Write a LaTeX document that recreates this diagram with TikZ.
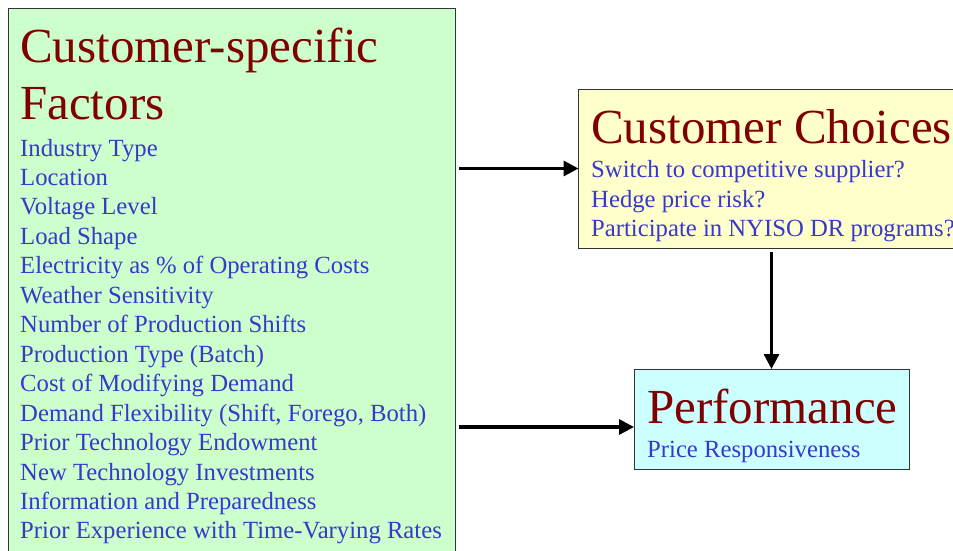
\documentclass[tikz,border=0pt]{standalone}
\usepackage{fontspec}
\setmainfont{Liberation Serif}
\usetikzlibrary{arrows.meta,calc}
\definecolor{titlered}{HTML}{800000}
\definecolor{itemblue}{HTML}{3838CC}
\definecolor{boxgreen}{HTML}{CCFFCC}
\definecolor{boxyellow}{HTML}{FFFFCC}
\definecolor{boxcyan}{HTML}{CCFFFF}
\definecolor{edge}{HTML}{333333}
\tikzset{
  panel/.style={draw=edge,line width=1pt,anchor=north west,inner sep=0pt,outer sep=0pt},
  title/.style={anchor=base west,inner sep=0pt,text=titlered,font=\fontsize{49}{58}\selectfont},
  item/.style={anchor=base west,inner sep=0pt,text=itemblue,font=\fontsize{24.7}{29}\selectfont},
  flow/.style={line width=3.2pt,-{Triangle[length=15pt,width=15pt]}}
}
\begin{document}
\begin{tikzpicture}[x=1pt,y=1pt]
\useasboundingbox (0,0) rectangle (953,-550);
% boxes
\node[panel,fill=boxgreen,minimum width=447pt,minimum height=560pt] (factors) at (8,-8) {};
\node[panel,fill=boxyellow,minimum width=400pt,minimum height=159pt] (cc) at (578.5,-89) {};
\node[panel,fill=boxcyan,minimum width=275pt,minimum height=100pt] (perf) at (634,-369) {};
% left box text
\node[title] (ft1) at (20,-62) {Customer-specific};
\node[title] (ft2) at (20,-119) {Factors};
\foreach \t [count=\i from 0] in {Industry Type,Location,Voltage Level,Load Shape,
  Electricity as \% of Operating Costs,Weather Sensitivity,Number of Production Shifts,
  Production Type (Batch),Cost of Modifying Demand,{Demand Flexibility (Shift, Forego, Both)},
  Prior Technology Endowment,New Technology Investments,Information and Preparedness,
  Prior Experience with Time-Varying Rates}
  \node[item] (f\i) at (20,{-156-29.46*\i}) {\t};
% customer choices text
\node[title] (cct) at (591,-143) {Customer Choices};
\node[item] (cc1) at (591,-177.5) {Switch to competitive supplier?};
\node[item] (cc2) at (591,-207) {Hedge price risk?};
\node[item] (cc3) at (591,-236.5) {Participate in NYISO DR programs?};
% performance text
\node[title] (pt) at (647,-423) {Performance};
\node[item] (p1) at (647,-457.5) {Price Responsiveness};
% connectors
\draw[flow] ($(factors.east |- cc.west)+(4pt,0)$) -- (cc.west);
\draw[flow] ($(factors.east |- perf.west)+(4pt,-8pt)$) -- ($(perf.west)+(0,-8pt)$);
\draw[flow] ($(perf.north |- cc.south)+(0,-4pt)$) -- (perf.north);
\end{tikzpicture}
\end{document}
